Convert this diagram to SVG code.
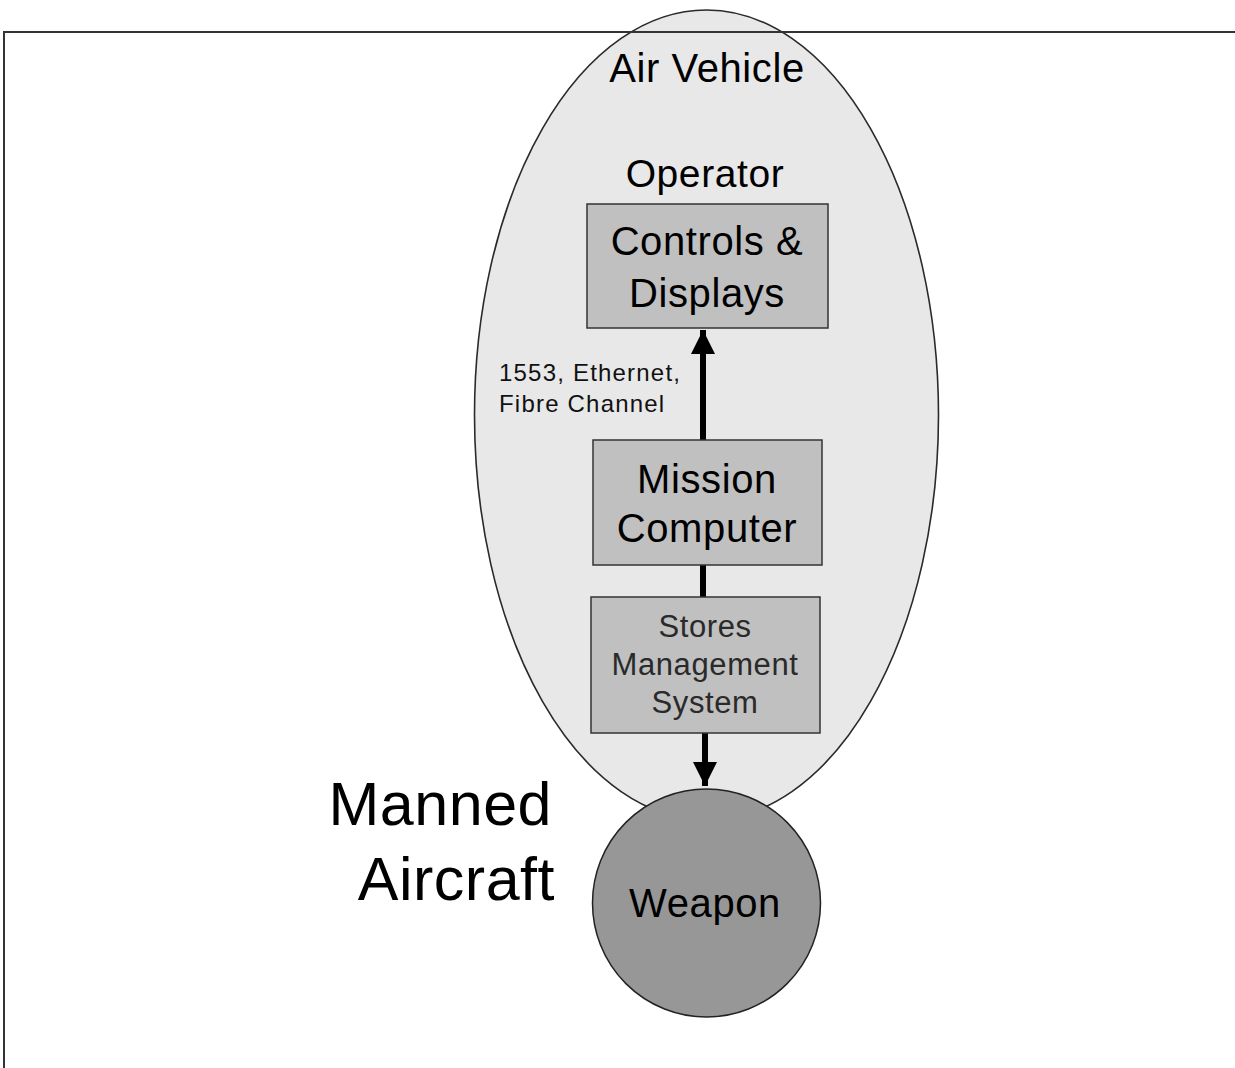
<svg xmlns="http://www.w3.org/2000/svg" width="1235" height="1068" viewBox="0 0 1235 1068">
  <style>
    .t { font-family: "Liberation Sans", Arial, sans-serif; fill: #000; text-anchor: middle; letter-spacing: 0.6px; }
    .box { fill: #c0c0c0; stroke: #333; stroke-width: 1.5; }
    .conn { stroke: #000; stroke-width: 6; fill: none; }
    .lbl { font-family: "Liberation Sans", Arial, sans-serif; font-size: 24px; fill: #111; letter-spacing: 1.2px; }
    .big { font-family: "Liberation Sans", Arial, sans-serif; font-size: 61px; text-anchor: end; fill: #000; letter-spacing: 0.5px; }
  </style>
  <defs>
    <marker id="ah" markerUnits="userSpaceOnUse" markerWidth="24" markerHeight="24" viewBox="0 0 24 24" refX="24" refY="12" orient="auto">
      <path d="M0,0 L24,12 L0,24 Z" fill="#000"/>
    </marker>
  </defs>
  <rect width="1235" height="1068" fill="#fff"/>

  <g id="air-vehicle">
    <ellipse cx="706.5" cy="415" rx="232" ry="405" fill="#e8e8e8" stroke="#2a2a2a" stroke-width="1.6"/>
    <text class="t" x="707" y="82" font-size="40">Air Vehicle</text>
  </g>

  <g id="frame">
    <path d="M4,1068 L4,32 L1235,32" fill="none" stroke="#333" stroke-width="2"/>
  </g>

  <g id="operator">
    <text class="t" x="705" y="187" font-size="39">Operator</text>
  </g>

  <g id="connectors">
    <line class="conn" x1="703" y1="440" x2="703" y2="330" marker-end="url(#ah)"/>
    <line class="conn" x1="703" y1="565" x2="703" y2="597"/>
    <line class="conn" x1="705" y1="733" x2="705" y2="786" marker-end="url(#ah)"/>
    <text class="lbl" x="499" y="381">1553, Ethernet,</text>
    <text class="lbl" x="499" y="412">Fibre Channel</text>
  </g>

  <g id="controls-displays">
    <rect class="box" x="587" y="204" width="241" height="124"/>
    <text class="t" x="707" y="255" font-size="40">Controls &amp;</text>
    <text class="t" x="707" y="307" font-size="40">Displays</text>
  </g>

  <g id="mission-computer">
    <rect class="box" x="593" y="440" width="229" height="125"/>
    <text class="t" x="707" y="493" font-size="40">Mission</text>
    <text class="t" x="707" y="542" font-size="40">Computer</text>
  </g>

  <g id="stores-management">
    <rect class="box" x="591" y="597" width="229" height="136"/>
    <text class="t" x="705" y="637" font-size="31" style="fill:#2a2a2a">Stores</text>
    <text class="t" x="705" y="675" font-size="31" style="fill:#2a2a2a">Management</text>
    <text class="t" x="705" y="713" font-size="31" style="fill:#2a2a2a">System</text>
  </g>

  <g id="weapon">
    <circle cx="706.5" cy="903" r="114" fill="#979797" stroke="#222" stroke-width="1.5"/>
    <text class="t" x="705" y="917" font-size="40">Weapon</text>
  </g>

  <g id="manned-aircraft">
    <text class="big" x="552" y="825">Manned</text>
    <text class="big" x="555" y="900">Aircraft</text>
  </g>
</svg>
